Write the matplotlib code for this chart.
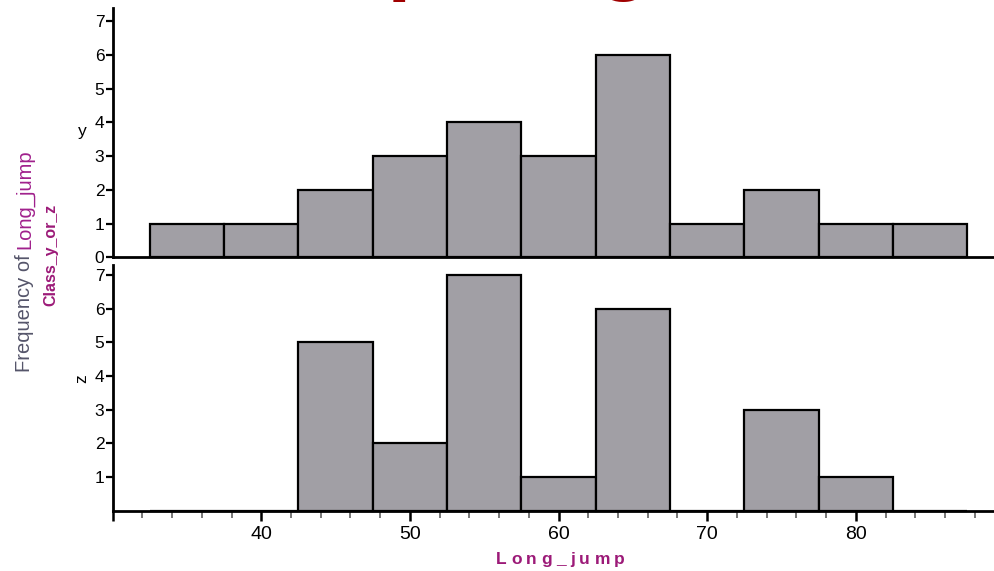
import numpy as np
import matplotlib
matplotlib.use("Agg")
import matplotlib.pyplot as plt
from matplotlib.ticker import MultipleLocator, FixedLocator

bin_edges = [32.5, 37.5, 42.5, 47.5, 52.5, 57.5, 62.5, 67.5, 72.5, 77.5, 82.5, 87.5]
y_counts = [1, 1, 2, 3, 4, 3, 6, 1, 2, 1, 1]
z_counts = [0, 0, 5, 2, 7, 1, 6, 0, 3, 1, 0]
x_ticks = [40, 50, 60, 70, 80]

plt.rcParams['font.family'] = ['Liberation Sans', 'DejaVu Sans']

W, H = 994, 571
fig = plt.figure(figsize=(W / 100, H / 100), dpi=100)
renderer = fig.canvas.get_renderer()

bar_color = '#a19fa5'
purple = '#9c1a78'

left = 112.7 / W
width = 1 - left
ax_top = fig.add_axes([left, (H - 257.3) / H, width, 249.3 / H])
ax_bot = fig.add_axes([left, (H - 510.7) / H, width, 245.7 / H])

lefts = np.array(bin_edges[:-1])
widths = np.diff(bin_edges)

for ax, counts, ylim in ((ax_top, y_counts, 7.39), (ax_bot, z_counts, 7.3)):
    ax.bar(lefts, counts, width=widths, align='edge', color=bar_color,
           edgecolor='black', linewidth=1.6, clip_on=False, zorder=3)
    ax.set_xlim(30, 89.3)
    ax.set_ylim(0, ylim)
    for s in ('top', 'right'):
        ax.spines[s].set_visible(False)
    ax.spines['left'].set_linewidth(2)
    ax.spines['bottom'].set_linewidth(2)
    ax.tick_params(axis='y', direction='out', length=5, width=1.6,
                   labelsize=12.5, pad=1)
    ax.patch.set_alpha(0)

ax_top.set_yticks(range(0, 8))
ax_top.set_xticks([])
ax_top.spines['bottom'].set_zorder(4)

ax_bot.set_yticks(range(1, 8))
ax_bot.xaxis.set_major_locator(FixedLocator([30] + x_ticks + [90]))
ax_bot.set_xticklabels([''] + [str(t) for t in x_ticks] + [''])
ax_bot.xaxis.set_minor_locator(MultipleLocator(2))
ax_bot.tick_params(axis='x', which='major', direction='out', length=7,
                   width=1.8, labelsize=14, pad=4)
ax_bot.tick_params(axis='x', which='minor', direction='out', length=5,
                   width=1.4, color='#777777')

# panel labels
fig.text(82 / W, 1 - 131 / H, 'y', fontsize=12.5, ha='center', va='center')
fig.text(82 / W, 1 - 379 / H, 'z', fontsize=12.5, ha='center', va='center',
         rotation=90)

# left labels: "Frequency of " + "Long_jump" in two colours, contiguous
t1 = fig.text(25 / W, 1 - 372 / H, 'Frequency of ', fontsize=14.5,
              color='#55556a', rotation=90, ha='center', va='bottom')
bb = t1.get_window_extent(renderer=renderer)
fig.text(25 / W, bb.y1 / H, 'Long_jump', fontsize=14.5, color='#a0208c',
         rotation=90, ha='center', va='bottom')
fig.text(51 / W, 1 - 255 / H, 'Class_y_or_z', fontsize=11.5, color=purple,
         fontweight='bold', rotation=90, ha='center', va='center')

# x label with letter spacing, placed letter by letter
xlabel = 'Long_jump'
x_start, x_end, base_y = 496.0, 625.0, 564.0
char_w = []
for ch in xlabel:
    tt = fig.text(0, 0, ch, fontsize=12.5, fontweight='bold')
    char_w.append(tt.get_window_extent(renderer=renderer).width)
    tt.remove()
gap = (x_end - x_start - sum(char_w)) / (len(xlabel) - 1)
xp = x_start
for ch, cw in zip(xlabel, char_w):
    fig.text(xp / W, 1 - base_y / H, ch, fontsize=12.5, fontweight='bold',
             color=purple, ha='left', va='baseline')
    xp += cw + gap

# clipped title at the top edge (only its descenders are visible, as in the reference)
fig.text(197 / W, 1 + 16 / H, 'Comparing', fontsize=62, color='#a00000',
         fontweight='bold', ha='left', va='baseline')

fig.savefig('out.png', dpi=100)
